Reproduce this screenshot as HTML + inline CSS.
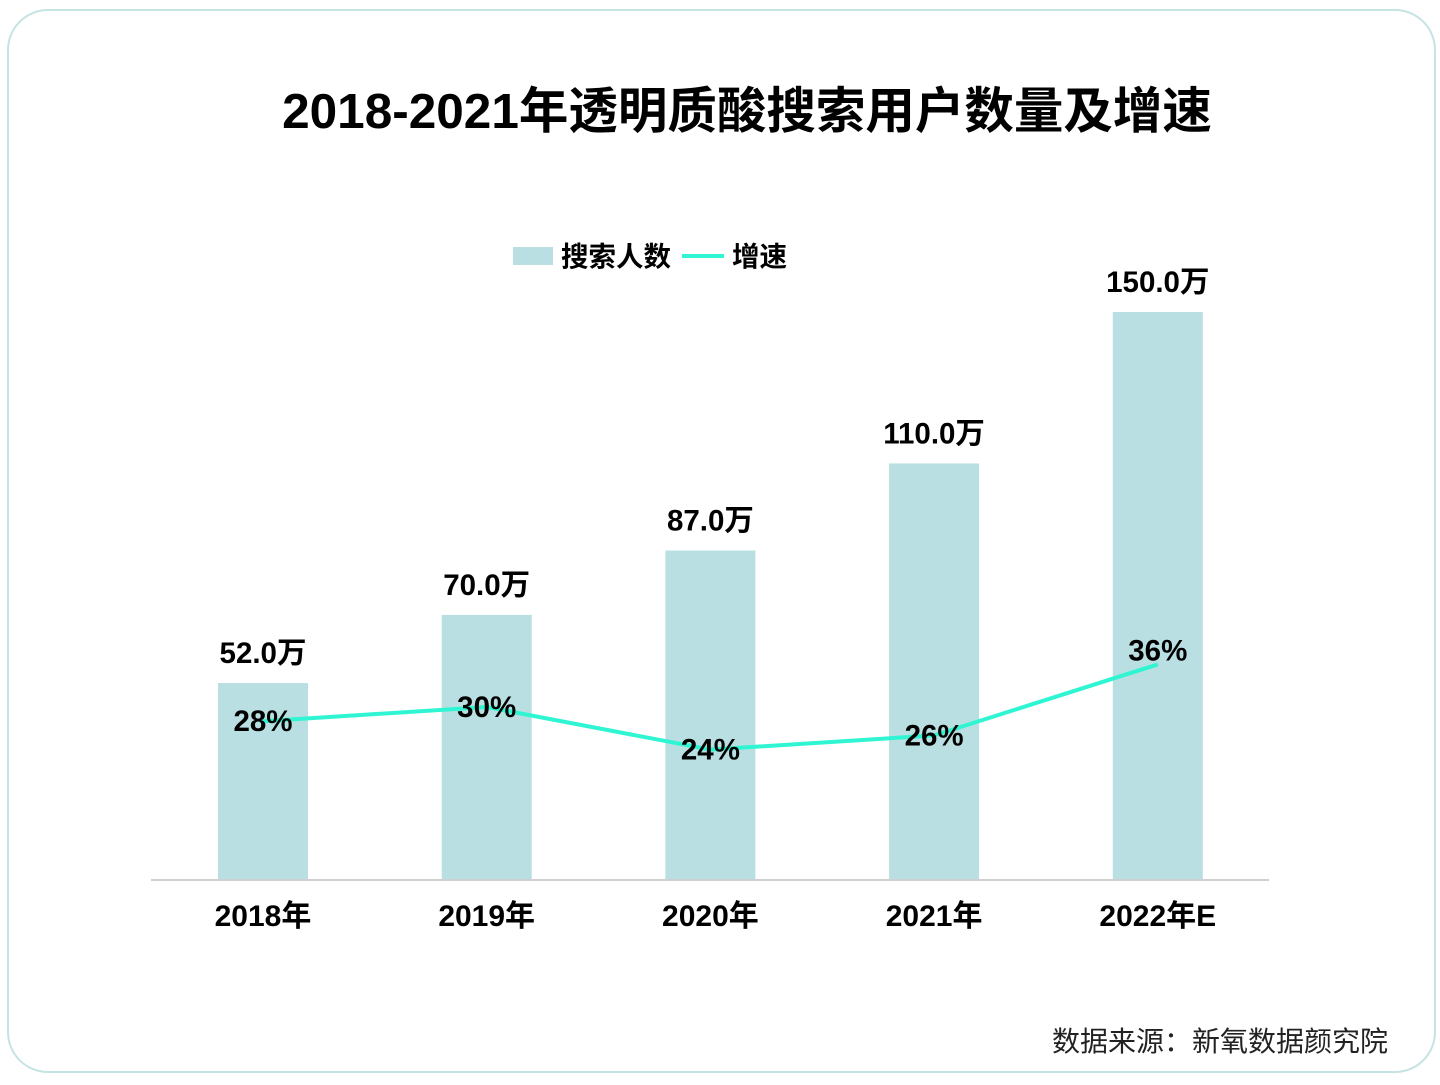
<!DOCTYPE html>
<html><head><meta charset="utf-8"><style>
body{margin:0;width:1440px;height:1080px;background:#fff;font-family:"Liberation Sans","Noto Sans CJK SC",sans-serif;}
</style></head><body>
<svg width="1440" height="1080" xmlns="http://www.w3.org/2000/svg">
<rect x="8" y="10" width="1427" height="1062" rx="40" fill="#fff" stroke="#c5e3e3" stroke-width="2"/>
<text x="747" y="128" text-anchor="middle" font-size="49.5" font-weight="bold" fill="#000">2018-2021年透明质酸搜索用户数量及增速</text>
<g>
<rect x="513" y="247" width="40" height="18" fill="#b9dfe2"/>
<text x="561" y="266" font-size="27.5" font-weight="bold">搜索人数</text>
<line x1="682" y1="256" x2="724" y2="256" stroke="#2ff5d3" stroke-width="4"/>
<text x="732" y="266" font-size="27.5" font-weight="bold">增速</text>
</g>
<g id="bars"></g>
<line x1="151" y1="880" x2="1269" y2="880" stroke="#d0d0d0" stroke-width="2"/>
<g id="line"></g>
<text x="1388" y="1051" text-anchor="end" font-size="28" fill="#222">数据来源：新氧数据颜究院</text>
</svg>
<script>
const categories=["2018年","2019年","2020年","2021年","2022年E"];
const users=[52,70,87,110,150];
const growth=[28,30,24,26,36];
const NS="http://www.w3.org/2000/svg";
const x=i=>263+i*223.7;
const yBar=v=>880-v*3.787;
const yLine=v=>920-v*7.1;
const bars=document.getElementById('bars'),lg=document.getElementById('line');
function mk(tag,attrs,txt){const e=document.createElementNS(NS,tag);for(const k in attrs)e.setAttribute(k,attrs[k]);if(txt!=null)e.textContent=txt;return e;}
categories.forEach((c,i)=>{
 const r=mk('rect',{x:x(i)-45,y:yBar(users[i]),width:90,height:880-yBar(users[i]),fill:'#b9dfe2'});
 
 
 bars.appendChild(r);
 const t=mk('text',{x:x(i),y:yBar(users[i])-20,'text-anchor':'middle','font-size':29.5,'font-weight':'bold'},users[i].toFixed(1)+'万');
 
 
 bars.appendChild(t);
 const xl=mk('text',{x:x(i),y:926,'text-anchor':'middle','font-size':30,'font-weight':'bold'},c);
 
 
 bars.appendChild(xl);
});
const p=mk('polyline',{points:growth.map((v,i)=>x(i)+','+yLine(v)).join(' '),fill:'none',stroke:'#2ff5d3','stroke-width':4});


lg.appendChild(p);
growth.forEach((v,i)=>{
 const off=(i===growth.length-1)?-4:10;
 const t=mk('text',{x:x(i),y:yLine(v)+off,'text-anchor':'middle','font-size':29.5,'font-weight':'bold'},v+'%');
 
 
 lg.appendChild(t);
});
</script>
</body></html>
